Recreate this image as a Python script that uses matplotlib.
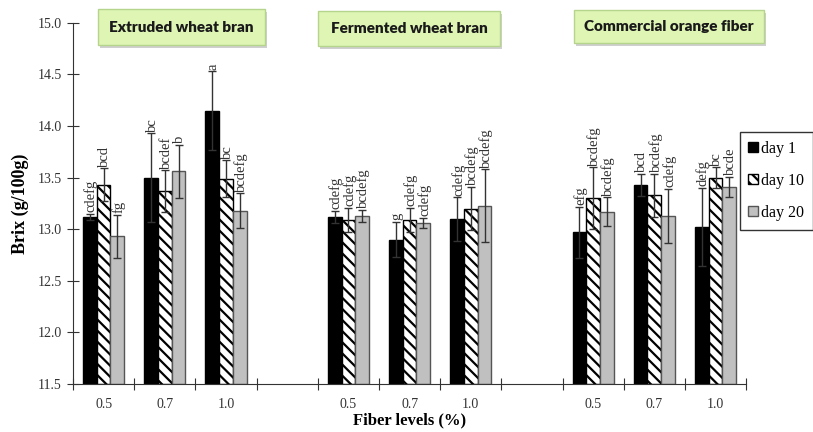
import numpy as np
import matplotlib
matplotlib.use("Agg")
import matplotlib.pyplot as plt
from matplotlib.patches import Rectangle, Patch

# ---------- data ----------
slot_labels = ["0.5", "0.7", "1.0", "", "0.5", "0.7", "1.0", "", "0.5", "0.7", "1.0"]
series_names = ["day 1", "day 10", "day 20"]

day1 = [13.12, 13.50, 14.15, None, 13.12, 12.90, 13.10, None, 12.97, 13.43, 13.02]
day10 = [13.43, 13.37, 13.49, None, 13.09, 13.09, 13.20, None, 13.30, 13.33, 13.50]
day20 = [12.93, 13.56, 13.18, None, 13.13, 13.06, 13.23, None, 13.17, 13.13, 13.41]

err1 = [0.03, 0.43, 0.38, None, 0.06, 0.17, 0.21, None, 0.25, 0.11, 0.38]
err10 = [0.16, 0.20, 0.18, None, 0.12, 0.12, 0.21, None, 0.30, 0.21, 0.10]
err20 = [0.21, 0.26, 0.17, None, 0.06, 0.05, 0.35, None, 0.14, 0.26, 0.10]

lab1 = ["cdefg", "bc", "a", "", "cdefg", "g", "cdefg", "", "efg", "bcd", "defg"]
lab10 = ["bcd", "bcdef", "bc", "", "cdefg", "cdefg", "bcdefg", "", "bcdefg", "bcdefg", "bc"]
lab20 = ["fg", "b", "bcdefg", "", "bcdefg", "cdefg", "bcdefg", "", "bcdefg", "cdefg", "bcde"]

group_titles = ["Extruded wheat bran", "Fermented wheat bran", "Commercial orange fiber"]

# ---------- figure ----------
plt.rcParams['hatch.linewidth'] = 1.6
fig = plt.figure(figsize=(8.13, 4.32), dpi=100)
ax = fig.add_axes([0.0898, 0.111, 0.828, 0.836])

serif = "Liberation Serif"
bw = 0.225
x = np.arange(len(slot_labels))
styles = [
    dict(color="black", edgecolor="black"),
    dict(color="white", edgecolor="black", hatch="\\\\\\"),
    dict(color="#c0c0c0", edgecolor="#555555"),
]
vals = [day1, day10, day20]
errs = [err1, err10, err20]
labs = [lab1, lab10, lab20]

for k in range(3):
    idx = [i for i in range(len(x)) if vals[k][i] is not None]
    xs = x[idx] + (k - 1) * bw
    v = np.array([vals[k][i] for i in idx])
    e = np.array([errs[k][i] for i in idx])
    ax.bar(xs, v - 11.5, bottom=11.5, width=bw, linewidth=1.0, zorder=2, **styles[k])
    ax.errorbar(xs, v, yerr=e, fmt="none", ecolor="#333333", elinewidth=1.0,
                capsize=3, capthick=1.0, zorder=3)
    for xi, vi, ei, i in zip(xs, v, e, idx):
        ax.text(xi + 0.02, vi + ei + 0.015, labs[k][i], rotation=90, ha="center", va="bottom",
                fontsize=10.5, family=serif, color="#333333", zorder=4)

ax.set_xlim(-0.5, len(slot_labels) - 0.5)
ax.set_ylim(11.5, 15.0)
ax.set_yticks(np.arange(11.5, 15.01, 0.5))
ax.set_yticklabels([f"{t:.1f}" for t in np.arange(11.5, 15.01, 0.5)], family=serif, fontsize=10)
ax.set_xticks(np.arange(-0.5, len(slot_labels), 1.0))
ax.set_xticklabels([])
ax.set_xticks(x, minor=True)
ax.set_xticklabels(slot_labels, minor=True, family=serif, fontsize=10)
ax.tick_params(axis="x", which="minor", length=0, pad=10, colors="#333333")
ax.tick_params(axis="x", which="major", direction="inout", length=9, color="#333333")
ax.tick_params(axis="y", direction="inout", length=9, color="#333333", labelcolor="#333333")
for s in ["top", "right"]:
    ax.spines[s].set_visible(False)
for s in ["left", "bottom"]:
    ax.spines[s].set_color("#333333")

ax.set_ylabel("Brix (g/100g)", family=serif, fontsize=13, fontweight="bold", labelpad=6)
ax.set_xlabel("Fiber levels (%)", family=serif, fontsize=12, fontweight="bold", labelpad=1)

handles = [Patch(facecolor=s["color"], edgecolor=s["edgecolor"], hatch=s.get("hatch")) for s in styles]
leg = fig.legend(handles, series_names, loc="upper right", bbox_to_anchor=(1.0, 1 - 132 / 432),
                 prop={"family": serif, "size": 11.5}, frameon=True, fancybox=False,
                 edgecolor="black", handlelength=0.6, handleheight=0.6, handletextpad=0.2,
                 labelspacing=1.0, borderpad=0.55, borderaxespad=0.0)
leg.get_frame().set_linewidth(1.0)

# ---------- group title boxes ----------
boxes = [(98, 9, 167, 36), (318, 11, 182, 35), (574, 10, 190, 33)]
for (bx, by, bwid, bh), title in zip(boxes, group_titles):
    x0 = bx / 813
    y0 = 1 - (by + bh) / 432
    w = bwid / 813
    h = bh / 432
    fig.patches.append(Rectangle((x0 + 2 / 813, y0 - 3 / 432), w, h, transform=fig.transFigure,
                                 facecolor="#cfcfcf", edgecolor="none", zorder=1))
    fig.patches.append(Rectangle((x0, y0), w, h, transform=fig.transFigure,
                                 facecolor="#def5b4", edgecolor="#b5d48c", linewidth=1.0, zorder=2))
    fig.text(x0 + w / 2, y0 + h / 2, title, ha="center", va="center", fontsize=11,
             fontweight="heavy", family="Lato", color="#1a1a1a", zorder=3)

fig.savefig("out.png", dpi=100)
